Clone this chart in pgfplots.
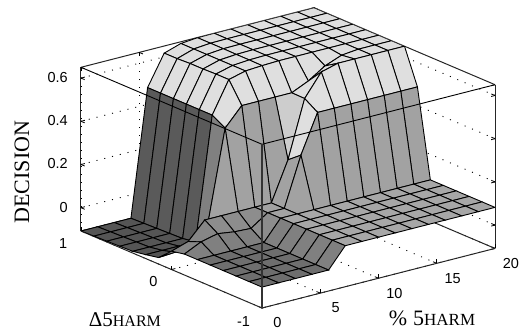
\documentclass[border=0pt]{standalone}
\usepackage{fontspec}
\setmainfont{Liberation Sans}
\newfontfamily\serif{Liberation Serif}
\usepackage{pgfplots}
\usepackage{pgfplotstable}
\pgfplotsset{compat=1.18}
% rows run back to front (y=1 first, x=20 first) so the painter order is right;
% c is the gray level of the face whose first corner is that row
\pgfplotstableread{
x y z c
20 1 .65 .87
18.5714 1 .65 .87
17.1429 1 .65 .87
15.7143 1 .65 .87
14.2857 1 .65 .87
12.8571 1 .65 .87
11.4286 1 .65 .87
10 1 .649 .87
8.5714 1 .642 .87
7.1429 1 .617 .87
5.7143 1 .477 .35
4.2857 1 -.108 .33
2.8571 1 -.108 .33
1.4286 1 -.108 .33
0 1 -.108 .33
20 .8571 .65 .87
18.5714 .8571 .65 .87
17.1429 .8571 .65 .87
15.7143 .8571 .65 .87
14.2857 .8571 .65 .87
12.8571 .8571 .65 .87
11.4286 .8571 .65 .87
10 .8571 .649 .87
8.5714 .8571 .642 .87
7.1429 .8571 .617 .87
5.7143 .8571 .477 .35
4.2857 .8571 -.106 .33
2.8571 .8571 -.106 .33
1.4286 .8571 -.106 .33
0 .8571 -.106 .33
20 .7143 .65 .87
18.5714 .7143 .65 .87
17.1429 .7143 .65 .87
15.7143 .7143 .65 .87
14.2857 .7143 .65 .87
12.8571 .7143 .65 .87
11.4286 .7143 .65 .87
10 .7143 .649 .87
8.5714 .7143 .642 .87
7.1429 .7143 .62 .87
5.7143 .7143 .477 .35
4.2857 .7143 -.104 .33
2.8571 .7143 -.104 .33
1.4286 .7143 -.104 .33
0 .7143 -.104 .33
20 .5714 .65 .87
18.5714 .5714 .65 .87
17.1429 .5714 .65 .87
15.7143 .5714 .65 .87
14.2857 .5714 .65 .87
12.8571 .5714 .65 .87
11.4286 .5714 .65 .87
10 .5714 .648 .87
8.5714 .5714 .642 .87
7.1429 .5714 .62 .87
5.7143 .5714 .477 .35
4.2857 .5714 -.102 .33
2.8571 .5714 -.102 .33
1.4286 .5714 -.102 .33
0 .5714 -.102 .33
20 .4286 .65 .87
18.5714 .4286 .65 .87
17.1429 .4286 .65 .87
15.7143 .4286 .65 .87
14.2857 .4286 .65 .87
12.8571 .4286 .65 .87
11.4286 .4286 .65 .87
10 .4286 .648 .87
8.5714 .4286 .642 .87
7.1429 .4286 .622 .87
5.7143 .4286 .477 .35
4.2857 .4286 -.1 .33
2.8571 .4286 -.1 .33
1.4286 .4286 -.1 .33
0 .4286 -.1 .33
20 .2857 .65 .87
18.5714 .2857 .65 .87
17.1429 .2857 .65 .87
15.7143 .2857 .65 .87
14.2857 .2857 .65 .87
12.8571 .2857 .65 .87
11.4286 .2857 .65 .87
10 .2857 .647 .87
8.5714 .2857 .642 .87
7.1429 .2857 .622 .87
5.7143 .2857 .477 .5
4.2857 .2857 -.09 .33
2.8571 .2857 -.09 .33
1.4286 .2857 -.09 .33
0 .2857 -.09 .33
20 .1429 .65 .87
18.5714 .1429 .65 .87
17.1429 .1429 .65 .87
15.7143 .1429 .642 .87
14.2857 .1429 .612 .87
12.8571 .1429 .562 .87
11.4286 .1429 .527 .8
10 .1429 .527 .63
8.5714 .1429 .527 .63
7.1429 .1429 .527 .63
5.7143 .1429 .442 .63
4.2857 .1429 .037 .52
2.8571 .1429 -.048 .52
1.4286 .1429 -.073 .52
0 .1429 -.078 .52
20 0 .65 .87
18.5714 0 .65 .87
17.1429 0 .65 .87
15.7143 0 .65 .87
14.2857 0 .65 .87
12.8571 0 .629 .87
11.4286 0 .526 .87
10 0 .262 .63
8.5714 0 .082 .63
7.1429 0 .082 .55
5.7143 0 .082 .55
4.2857 0 .082 .55
2.8571 0 .082 .52
1.4286 0 .002 .52
0 0 -.023 .52
20 -.1429 .487 .63
18.5714 -.1429 .487 .63
17.1429 -.1429 .487 .63
15.7143 -.1429 .487 .63
14.2857 -.1429 .487 .63
12.8571 -.1429 .487 .63
11.4286 -.1429 .487 .63
10 -.1429 .309 .63
8.5714 -.1429 .082 .63
7.1429 -.1429 .082 .55
5.7143 -.1429 .029 .5
4.2857 -.1429 .033 .5
2.8571 -.1429 .044 .5
1.4286 -.1429 .026 .5
0 -.1429 -.011 .5
20 -.2857 .082 .65
18.5714 -.2857 .082 .65
17.1429 -.2857 .082 .65
15.7143 -.2857 .082 .65
14.2857 -.2857 .082 .65
12.8571 -.2857 .082 .65
11.4286 -.2857 .082 .65
10 -.2857 .082 .65
8.5714 -.2857 .082 .65
7.1429 -.2857 .082 .5
5.7143 -.2857 -.011 .43
4.2857 -.2857 -.011 .43
2.8571 -.2857 -.011 .43
1.4286 -.2857 -.011 .43
0 -.2857 -.011 .43
20 -.4286 .082 .65
18.5714 -.4286 .082 .65
17.1429 -.4286 .082 .65
15.7143 -.4286 .082 .65
14.2857 -.4286 .082 .65
12.8571 -.4286 .082 .65
11.4286 -.4286 .082 .65
10 -.4286 .082 .65
8.5714 -.4286 .082 .65
7.1429 -.4286 .082 .5
5.7143 -.4286 -.011 .43
4.2857 -.4286 -.011 .43
2.8571 -.4286 -.011 .43
1.4286 -.4286 -.011 .43
0 -.4286 -.011 .43
20 -.5714 .082 .65
18.5714 -.5714 .082 .65
17.1429 -.5714 .082 .65
15.7143 -.5714 .082 .65
14.2857 -.5714 .082 .65
12.8571 -.5714 .082 .65
11.4286 -.5714 .082 .65
10 -.5714 .082 .65
8.5714 -.5714 .082 .65
7.1429 -.5714 .082 .5
5.7143 -.5714 -.011 .43
4.2857 -.5714 -.011 .43
2.8571 -.5714 -.011 .43
1.4286 -.5714 -.011 .43
0 -.5714 -.011 .43
20 -.7143 .082 .65
18.5714 -.7143 .082 .65
17.1429 -.7143 .082 .65
15.7143 -.7143 .082 .65
14.2857 -.7143 .082 .65
12.8571 -.7143 .082 .65
11.4286 -.7143 .082 .65
10 -.7143 .082 .65
8.5714 -.7143 .082 .65
7.1429 -.7143 .082 .5
5.7143 -.7143 -.011 .43
4.2857 -.7143 -.011 .43
2.8571 -.7143 -.011 .43
1.4286 -.7143 -.011 .43
0 -.7143 -.011 .43
20 -.8571 .082 .65
18.5714 -.8571 .082 .65
17.1429 -.8571 .082 .65
15.7143 -.8571 .082 .65
14.2857 -.8571 .082 .65
12.8571 -.8571 .082 .65
11.4286 -.8571 .082 .65
10 -.8571 .082 .65
8.5714 -.8571 .082 .65
7.1429 -.8571 .082 .5
5.7143 -.8571 -.011 .43
4.2857 -.8571 -.011 .43
2.8571 -.8571 -.011 .43
1.4286 -.8571 -.011 .43
0 -.8571 -.011 .43
20 -1 .082 .5
18.5714 -1 .082 .5
17.1429 -1 .082 .5
15.7143 -1 .082 .5
14.2857 -1 .082 .5
12.8571 -1 .082 .5
11.4286 -1 .082 .5
10 -1 .082 .5
8.5714 -1 .082 .5
7.1429 -1 .082 .5
5.7143 -1 -.011 .5
4.2857 -1 -.011 .5
2.8571 -1 -.011 .5
1.4286 -1 -.011 .5
0 -1 -.011 .5
}\surfdata
\begin{document}
\begin{tikzpicture}
\useasboundingbox (0,0) rectangle (522pt,-331pt);
\begin{axis}[
    at={(171.5pt,-246.2pt)},
    anchor=origin,
    x={(11.65pt,2.98pt)},
    y={(-90.5pt,38.5pt)},
    z={(0pt,216pt)},
    xmin=0, xmax=20,
    ymin=-1, ymax=1,
    zmin=-.108, zmax=.65,
    xtick={0,5,10,15,20},
    ytick={-1,0,1},
    ztick={0,.2,.4,.6},
    grid=major,
    grid style={black, line width=.9pt, dash pattern=on 1pt off 7pt},
    axis line style={line width=1pt, black!85},
    tick style={black, line width=.8pt},
    major tick length=4pt,
    ticklabel style={font=\fontsize{14.5}{15}\selectfont, inner sep=1pt},
    xticklabel style={xshift=11pt, yshift=-8pt},
    yticklabel style={xshift=-13pt, yshift=-6pt},
    zticklabel style={xshift=-12pt},
    /pgf/number format/assume math mode=true,
    colormap={bw}{gray(0cm)=(0); gray(1cm)=(1)},
    point meta min=0, point meta max=1,
    xlabel={\serif\fontsize{22}{22}\selectfont \%\hspace{6pt}5\fontsize{17}{17}\selectfont HARM},
    x label style={at={(axis cs:7.48,-1.916,-.094)}, anchor=center, rotate=0},
    ylabel={\serif\fontsize{21}{21}\selectfont Δ5\fontsize{16}{16}\selectfont HARM},
    y label style={at={(axis cs:-8.86,-.626,-.108)}, anchor=center, rotate=0},
    zlabel={\serif\fontsize{22}{22}\selectfont DECISION},
    z label style={at={(axis cs:0,1.652,.049)}, anchor=center, rotate=0},
]
\addplot3[surf, z buffer=none, shader=flat corner, draw=black, line width=.9pt,
    mesh/ordering=x varies, mesh/cols=15, point meta=explicit]
    table[x=x, y=y, z=z, meta=c] {\surfdata};
% front edges of the box lie over the surface
\addplot3[black, line width=.9pt, forget plot] coordinates {(0,1,.65) (0,-1,.65) (20,-1,.65)};
\addplot3[black!80, line width=1.2pt, forget plot] coordinates {(0,-1,.65) (0,-1,-.108)};
\end{axis}
\end{tikzpicture}
\end{document}
